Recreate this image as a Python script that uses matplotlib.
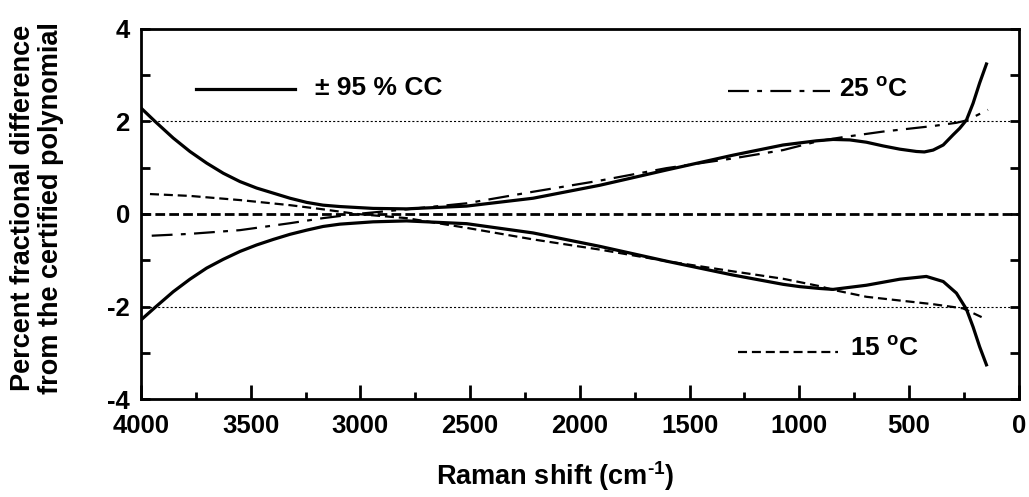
#!/bin/python3

import matplotlib
matplotlib.use('Agg')
import matplotlib.pyplot as plt
from matplotlib.ticker import MultipleLocator


# upper 95 % confidence curve
cc_up_x = [4000, 3936, 3853, 3777, 3701, 3625, 3549, 3473, 3397, 3321, 3245, 3170,
           3093, 2942, 2790, 2516, 2213, 1909, 1605, 1302, 1074, 922, 846, 770,
           694, 618, 542, 466, 430, 390, 344, 299, 269, 238, 208, 178, 147]
cc_up_y = [2.29, 2.00, 1.64, 1.35, 1.10, 0.88, 0.70, 0.56, 0.45, 0.34, 0.25, 0.19,
           0.16, 0.12, 0.11, 0.17, 0.34, 0.62, 0.95, 1.27, 1.49, 1.58, 1.61, 1.60,
           1.55, 1.47, 1.40, 1.35, 1.34, 1.38, 1.49, 1.71, 1.85, 2.03, 2.39, 2.83, 3.24]

# lower 95 % confidence curve
cc_lo_x = [4000, 3936, 3853, 3777, 3701, 3625, 3549, 3473, 3397, 3321, 3245, 3170,
           3093, 2942, 2790, 2516, 2213, 1909, 1605, 1302, 1074, 998, 907, 846,
           694, 542, 421, 344, 284, 238, 208, 178, 147]
cc_lo_y = [-2.29, -2.02, -1.68, -1.41, -1.17, -0.98, -0.81, -0.67, -0.55, -0.44, -0.35, -0.27,
           -0.22, -0.17, -0.15, -0.21, -0.41, -0.70, -1.02, -1.32, -1.52, -1.57, -1.61, -1.63,
           -1.54, -1.41, -1.35, -1.46, -1.71, -2.06, -2.44, -2.87, -3.26]

# 25 C
t25_x = [3951, 3777, 3549, 3321, 3170, 3017, 2790, 2516, 2213, 1909, 1605, 1302,
         1074, 907, 800, 618, 390, 284, 238, 140]
t25_y = [-0.47, -0.43, -0.35, -0.20, -0.09, 0.00, 0.10, 0.23, 0.48, 0.72, 0.99, 1.20,
         1.38, 1.58, 1.66, 1.78, 1.90, 1.97, 2.02, 2.25]

# 15 C
t15_x = [3959, 3777, 3549, 3321, 3170, 3017, 2790, 2516, 2213, 1909, 1605, 1302,
         1074, 907, 846, 694, 542, 390, 254, 155]
t15_y = [0.43, 0.39, 0.30, 0.19, 0.10, 0.00, -0.09, -0.30, -0.55, -0.77, -1.02, -1.24,
         -1.40, -1.56, -1.64, -1.79, -1.87, -1.95, -2.04, -2.26]

xticks = [4000, 3500, 3000, 2500, 2000, 1500, 1000, 500, 0]
yticks = [-4, -2, 0, 2, 4]

DASHDOT = (0, (15, 6, 3.5, 6))
DASHED = (0, (6.5, 3.5))

plt.rcParams.update({
  'font.family': ['Liberation Sans', 'DejaVu Sans'],
  'font.weight': 'bold',
  'font.size': 18.5,
  'axes.labelweight': 'bold',
  'axes.unicode_minus': False,
  'mathtext.fontset': 'custom',
  'mathtext.rm': 'Liberation Sans:bold',
  'mathtext.bf': 'Liberation Sans:bold',
  'mathtext.it': 'Liberation Sans:bold',
  'mathtext.default': 'rm',
  'lines.scale_dashes': False,
})

fig = plt.figure(figsize=(10.29, 4.97), dpi=100)
ax = fig.add_axes([0.137, 0.197, 0.853, 0.745])

# reference lines
ax.axhline(0, color='black', lw=2.0, ls=(0, (7, 3)))
ax.axhline(2, color='black', lw=0.8, ls=(0, (1.5, 1.5)))
ax.axhline(-2, color='black', lw=0.8, ls=(0, (1.5, 1.5)))

ax.plot(cc_up_x, cc_up_y, color='black', lw=2.3)
ax.plot(cc_lo_x, cc_lo_y, color='black', lw=2.3)
ax.plot(t25_x, t25_y, color='black', lw=1.6, ls=DASHDOT)
ax.plot(t15_x, t15_y, color='black', lw=1.6, ls=DASHED)

ax.set_xlim(4000, 0)
ax.set_ylim(-4, 4)
ax.set_xticks(xticks)
ax.set_yticks(yticks)
ax.xaxis.set_minor_locator(MultipleLocator(250))
ax.yaxis.set_minor_locator(MultipleLocator(1))

ax.tick_params(which='both', direction='in', width=2.0, right=True, top=False)
ax.tick_params(axis='x', which='major', length=10, pad=11)
ax.tick_params(axis='x', which='minor', length=5)
ax.tick_params(axis='y', which='both', length=6.5, pad=8)
for sp in ax.spines.values():
  sp.set_linewidth(2.0)

fig.text(555 / 1029, 0.024, 'Raman shift (cm$^{\\text{-1}}$)', ha='center', va='baseline',
         fontsize=19.5, fontweight='bold')
fig.text(0.036, 0.5815, 'Percent fractional difference\nfrom the certified polynomial',
         rotation=90, ha='center', va='center', multialignment='center',
         fontsize=19.5, fontweight='bold', linespacing=1.1)

# hand-drawn key
tr = ax.transAxes
ax.plot([0.0626, 0.1754], [0.838, 0.838], color='black', lw=2.3, transform=tr)
ax.text(0.1982, 0.84, '\u00b1 95 % CC', transform=tr, va='center', ha='left', fontsize=19)
ax.plot([0.6686, 0.7847], [0.833, 0.833], color='black', lw=1.6, ls=DASHDOT, transform=tr)
ax.text(0.7950, 0.835, '25 $^{\\mathbf{o}}$C', transform=tr, va='center', ha='left', fontsize=19)
ax.plot([0.680, 0.7938], [0.128, 0.128], color='black', lw=1.6, ls=DASHED, transform=tr)
ax.text(0.8075, 0.137, '15 $^{\\mathbf{o}}$C', transform=tr, va='center', ha='left', fontsize=19)

fig.savefig('out.png', dpi=100)
